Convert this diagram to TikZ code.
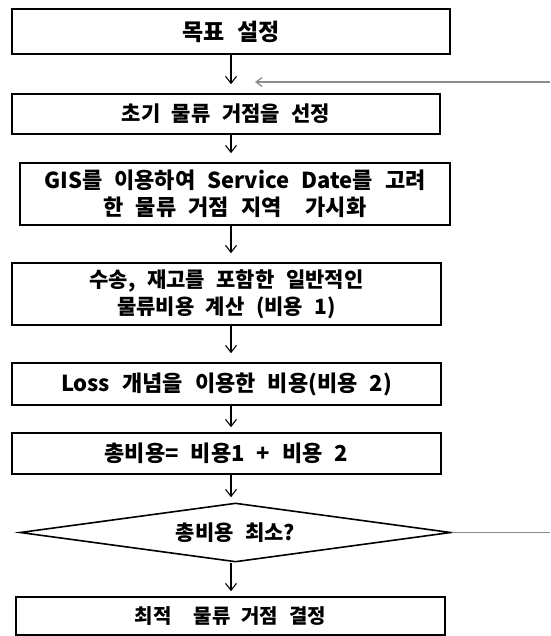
\documentclass[tikz,border=0pt]{standalone}
\usepackage{fontspec}
\setmainfont{Noto Sans CJK KR}[WordSpace={2.4}]
\usetikzlibrary{arrows.meta,shapes.geometric}
\begin{document}
\begin{tikzpicture}[x=1pt,y=-1pt,
  txt/.style={font=\fontsize{#1}{27}\selectfont\bfseries},
  txt/.default=20,
  box/.style={draw,line width=1.6pt,rectangle,inner sep=0pt,align=center,txt},
  decision/.style={draw,line width=1.6pt,diamond,aspect=7.3,inner sep=0pt,txt},
  flow/.style={-{Straight Barb[length=7pt,width=11pt]},line width=1.1pt},
  back/.style={draw=black!45,line width=1.3pt}]
\useasboundingbox (0,0) rectangle (550,636);
\coordinate (ax) at (231,0);
\node[box,minimum width=438pt,minimum height=45pt,txt=23] (b1) at (231,31.5) {목표 설정};
\node[box,minimum width=428pt,minimum height=40pt,txt=21] (b2) at (226,114) {초기 물류 거점을 선정};
\node[box,minimum width=430pt,minimum height=62pt,txt=22] (b3) at (235,194) {GIS를 이용하여 Service Date를 고려\\한 물류 거점 지역\ \ 가시화};
\node[box,minimum width=429pt,minimum height=62pt,txt=21] (b4) at (226.5,294) {수송, 재고를 포함한 일반적인\\물류비용 계산 (비용 1)};
\node[box,minimum width=429pt,minimum height=42pt,txt=22] (b5) at (226.5,384) {Loss 개념을 이용한 비용(비용 2)};
\node[box,minimum width=429pt,minimum height=41pt,txt=22] (b6) at (226.5,453.5) {총비용= 비용1 + 비용 2};
\node[decision,minimum width=431pt,minimum height=59pt,txt=21] (d) at (235.5,532.5) {총비용 최소?};
\node[box,minimum width=429pt,minimum height=38pt] (b8) at (230.5,616) {최적\ \ 물류 거점 결정};
\draw[flow,shorten >=9pt] (b1.south -| ax) -- (b2.north -| ax);
\draw[flow,shorten >=9pt] (b2.south -| ax) -- (b3.north -| ax);
\draw[flow,shorten >=9pt] (b3.south -| ax) -- (b4.north -| ax);
\draw[flow,shorten >=9pt] (b4.south -| ax) -- (b5.north -| ax);
\draw[flow,shorten >=5pt] (b5.south -| ax) -- (b6.north -| ax);
\draw[flow,shorten >=5pt] (b6.south -| ax) -- (d.north -| ax);
\draw[flow,shorten >=5pt] (d.south -| ax) -- (b8.north -| ax);
\coordinate (r1) at (550,532.5);
\coordinate (r2) at (550,82);
\coordinate (fb) at (255,82);
\draw[back] (d.east) -- (r1);
\draw[back,-{Straight Barb[length=6pt,width=9pt]}] (r2) -- (fb);
\end{tikzpicture}
\end{document}
